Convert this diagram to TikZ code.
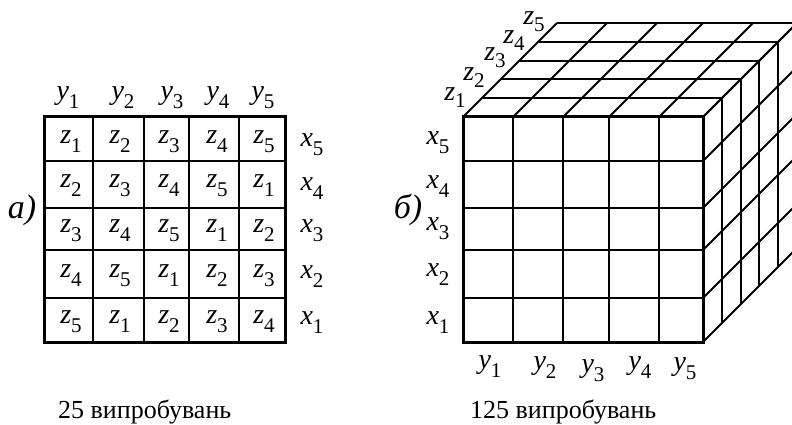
\documentclass[tikz,border=0pt]{standalone}
\usepackage{fontspec}
\setmainfont{Liberation Serif}
\newcommand{\lbl}[2]{{\fontsize{28}{30}\selectfont\itshape #1}\raisebox{-9pt}{\fontsize{21}{22}\selectfont #2}}
\newcommand{\lblc}[2]{{\fontsize{28}{30}\selectfont\itshape #1}\raisebox{-7pt}{\fontsize{21}{22}\selectfont #2}}
\begin{document}
\begin{tikzpicture}[x=1pt,y=-1pt,
  lab/.style={inner sep=0pt,outer sep=0pt},
  gridline/.style={line width=2pt},
  border/.style={line width=3pt},
  txt/.style={inner sep=0pt,font=\fontsize{26}{28}\selectfont},
  part/.style={inner sep=0pt,font=\fontsize{34}{36}\selectfont\itshape}]
\useasboundingbox (0,0) rectangle (792,425);

% ---------- a) Latin square ----------
\foreach \x in {93,144,189,239} \draw[gridline] (\x,117) -- (\x,342);
\foreach \y in {161,208,250,298} \draw[gridline] (44,\y) -- (285,\y);
\draw[border] (44,117) rectangle (285,342);

\foreach \r/\yy in {0/142,1/186,2/231,3/276,4/322}
  \foreach \c/\xx in {0/71,1/120,2/169,3/217,4/264} {
    \pgfmathtruncatemacro{\zi}{mod(\r+\c,5)+1}
    \node[lab] (z-\r-\c) at (\xx,\yy) {\lbl{z}{\zi}};
  }

\foreach \i/\xx in {1/68,2/123,3/172,4/218,5/263}
  \node[lab] (ya-\i) at (\xx,98) {\lbl{y}{\i}};
\foreach \i/\yy in {5/145,4/189,3/231,2/277,1/323}
  \node[lab] (xa-\i) at (312,\yy) {\lbl{x}{\i}};

\node[part] (la) at (22,210) {а)};

% ---------- b) cube ----------
\begin{scope}
\clip (0,0) rectangle (792,425);
% top face
\foreach \k in {1,...,5}
  \draw[gridline] (463+18.8*\k,117-18.8*\k) -- (703+18.8*\k,117-18.8*\k);
\foreach \x in {463,513,563,609,659,703}
  \draw[gridline] (\x,117) -- (\x+94,23);
% right face
\foreach \k in {1,...,5}
  \draw[gridline] (703+18.8*\k,117-18.8*\k) -- (703+18.8*\k,342-18.8*\k);
\foreach \y in {117,161,208,250,298,342}
  \draw[gridline] (703,\y) -- (797,\y-94);
% front face
\foreach \x in {513,563,609,659} \draw[gridline] (\x,117) -- (\x,342);
\foreach \y in {161,208,250,298} \draw[gridline] (463,\y) -- (703,\y);
\draw[border] (463,117) rectangle (703,342);
\end{scope}

\foreach \i/\xx/\yy in {1/455/98,2/474/78,3/495/58,4/514/41,5/534/22}
  \node[lab] (zb-\i) at (\xx,\yy) {\lblc{z}{\i}};
\foreach \i/\yy in {5/143,4/187,3/229,2/275,1/323}
  \node[lab] (xb-\i) at (438,\yy) {\lbl{x}{\i}};
\foreach \i/\xx/\yy in {1/490/367,2/545/368,3/593/371,4/640/368,5/685/369}
  \node[lab] (yb-\i) at (\xx,\yy) {\lbl{y}{\i}};

\node[part] (lb) at (408,210) {б)};

% ---------- captions ----------
\node[txt,anchor=base west] (t1) at (58,418) {25 випробувань};
\node[txt,anchor=base west] (t2) at (470,418) {125 випробувань};
\end{tikzpicture}
\end{document}
